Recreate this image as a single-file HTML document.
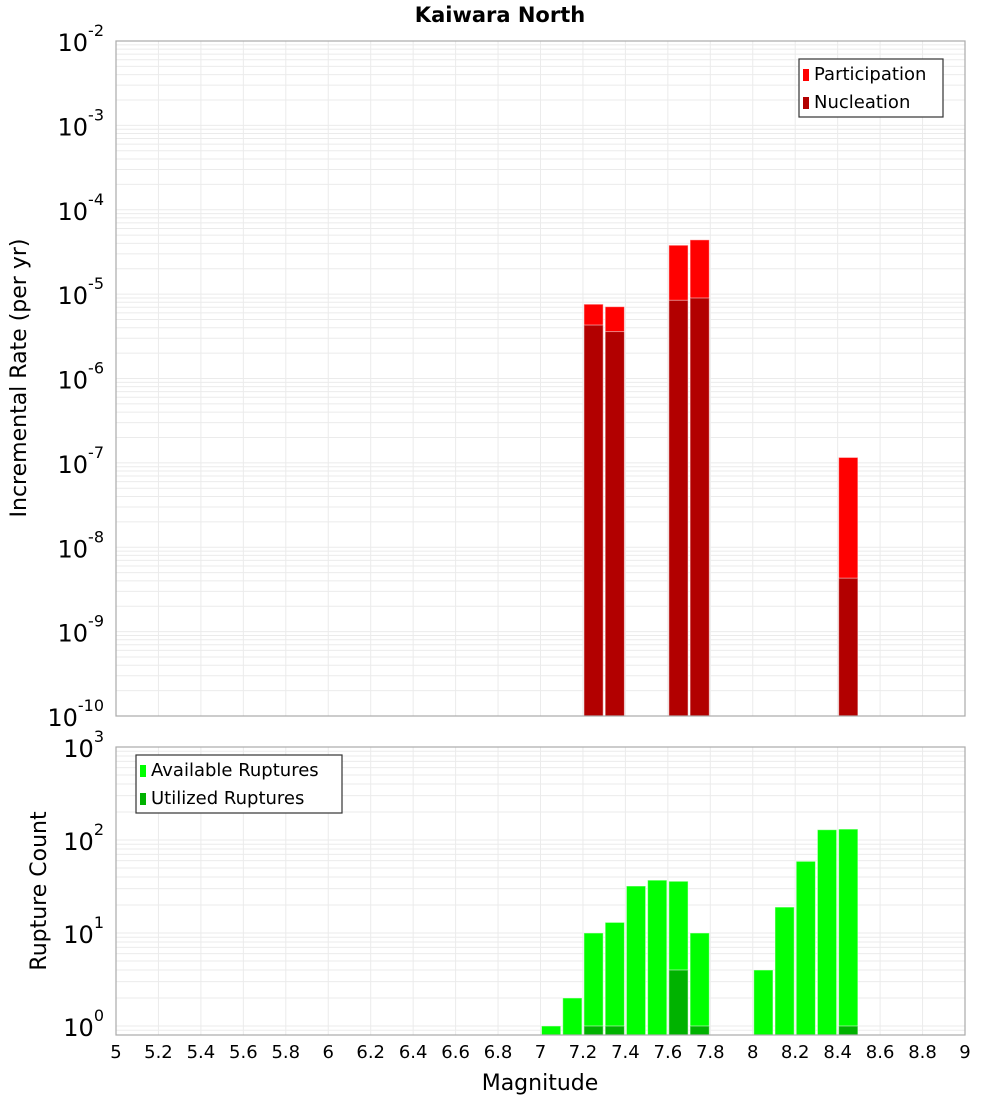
<!DOCTYPE html>
<html><head><meta charset="utf-8"><style>
body{margin:0;background:#fff;font-family:"Liberation Sans","DejaVu Sans",sans-serif}
svg text{font-family:"DejaVu Sans","Liberation Sans",sans-serif}
</style></head><body>
<svg id="chart" width="1000" height="1100" xmlns="http://www.w3.org/2000/svg">
<text x="500" y="22" text-anchor="middle" font-size="21" font-weight="bold">Kaiwara North</text>
<g id="top"></g>
<g id="bot"></g>
<text transform="translate(26,378) rotate(-90)" text-anchor="middle" font-size="22">Incremental Rate (per yr)</text>
<text transform="translate(46,891) rotate(-90)" text-anchor="middle" font-size="22">Rupture Count</text>
<text x="540" y="1090" text-anchor="middle" font-size="22">Magnitude</text>
</svg>
<script>
const NS="http://www.w3.org/2000/svg";
const mags=[7.05,7.15,7.25,7.35,7.45,7.55,7.65,7.75,8.05,8.15,8.25,8.35,8.45];
const participationMags=[7.25,7.35,7.65,7.75,8.45];
const participation=[7.6e-6,7.1e-6,3.8e-5,4.4e-5,1.16e-7];
const nucleation=[4.3e-6,3.6e-6,8.45e-6,9.0e-6,4.3e-9];
const available=[1,2,10,13,32,37,36,10,4,19,59,129,131];
const utilizedMags=[7.25,7.35,7.65,7.75,8.45];
const utilized=[1,1,4,1,1];
const xTicks=["5","5.2","5.4","5.6","5.8","6","6.2","6.4","6.6","6.8","7","7.2","7.4","7.6","7.8","8","8.2","8.4","8.6","8.8","9"];
const L=116,R=965;
const X=m=>L+(m-5)/4*(R-L);
function mk(p,tag,a,txt){const e=document.createElementNS(NS,tag);for(const k in a)e.setAttribute(k,a[k]);if(txt!==undefined)e.textContent=txt;p.appendChild(e);return e;}
function panel(g,top,bot,lmax,lmin,ticks){
  const Y=v=>top+(lmax-Math.log10(v))/(lmax-lmin)*(bot-top);
  for(let d=Math.floor(lmin);d<lmax;d++)for(let k=1;k<10;k++){const v=k*Math.pow(10,d);const lv=Math.log10(v);if(lv<lmin||lv>lmax)continue;
    const ln=mk(g,'line',{x1:L,x2:R,y1:Y(v),y2:Y(v),stroke:'#ebebeb','stroke-width':1});
    
    }
  for(let i=0;i<xTicks.length;i++){const x=X(+xTicks[i]);const ln=mk(g,'line',{x1:x,x2:x,y1:top,y2:bot,stroke:'#ebebeb','stroke-width':1});
    
    }
  for(const t of ticks){const y=Y(Math.pow(10,t));
    const tx=mk(g,'text',{x:104,y:y+10,'text-anchor':'end','font-size':24});
    
    
    mk(tx,'tspan',{},'10');const s=mk(tx,'tspan',{dy:-15,'font-size':16},String(t));}
  return Y;}
function bar(g,m,v,Y,bot,col,name){const x0=X(m-0.05)+1,x1=X(m+0.05)-1;const y=Y(v);
  const r=mk(g,'rect',{x:x0,y:y,width:x1-x0,height:bot-y,fill:col,stroke:'rgba(255,255,255,0.5)','stroke-width':1});
  
  }
function frame(g,top,bot){const r=mk(g,'rect',{x:L,y:top,width:R-L,height:bot-top,fill:'none',stroke:'#aaa','stroke-width':1.2});
  
  }
function legend(g,x,y,w,items){const r=mk(g,'rect',{x:x,y:y,width:w,height:58,fill:'#fff',stroke:'#333','stroke-width':1.2});
  
  
  items.forEach((it,i)=>{const s=mk(g,'rect',{x:x+4,y:y+10+i*28,width:6,height:12,fill:it[1]});
    
    
    const t=mk(g,'text',{x:x+15,y:y+21+i*28,'font-size':18},it[0]);
    
    });}
// top panel
const gt=document.getElementById('top');
const Yt=panel(gt,41,716,-2,-10,[-2,-3,-4,-5,-6,-7,-8,-9,-10]);
participation.forEach((v,i)=>bar(gt,participationMags[i],v,Yt,716,'#ff0000','bar-participation'));
nucleation.forEach((v,i)=>bar(gt,participationMags[i],v,Yt,716,'#b20000','bar-nucleation'));
frame(gt,41,716);
legend(gt,799,59,144,[["Participation","#ff0000"],["Nucleation","#b20000"]]);
// bottom panel
const gb=document.getElementById('bot');
const Yb=panel(gb,747,1035,3,-0.097,[3,2,1,0]);
available.forEach((v,i)=>bar(gb,mags[i],v,Yb,1035,'#00ff00','bar-available'));
utilized.forEach((v,i)=>bar(gb,utilizedMags[i],v,Yb,1035,'#00b200','bar-utilized'));
frame(gb,747,1035);
legend(gb,136,755,206,[["Available Ruptures","#00ff00"],["Utilized Ruptures","#00b200"]]);
xTicks.forEach(t=>{const tx=mk(gb,'text',{x:X(+t),y:1058,'text-anchor':'middle','font-size':18},t);
  
  });
</script>
</body></html>
